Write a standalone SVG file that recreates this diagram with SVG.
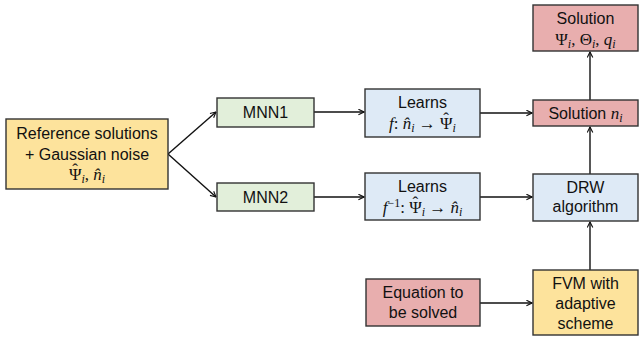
<svg xmlns="http://www.w3.org/2000/svg" width="643" height="344" viewBox="0 0 643 344">
<defs>
<marker id="arr" viewBox="0 0 10 10" refX="9" refY="5" markerWidth="7" markerHeight="7" markerUnits="userSpaceOnUse" orient="auto">
<path d="M1,1 L9,5 L1,9" fill="none" stroke="#111" stroke-width="1.6"/>
</marker>
</defs>
<style>
rect{stroke:#333;stroke-width:1.4}
.y{fill:#FDE39C}.g{fill:#E2EFDA}.b{fill:#DEEAF6}.r{fill:#E8AEAE}
text{font-family:"Liberation Sans",Arial,sans-serif;font-size:16px;fill:#111;text-anchor:middle}
.m{font-family:"Liberation Serif","DejaVu Serif",serif;font-size:17px}
.i{font-style:italic}
.s{font-size:12px;font-style:italic;font-family:"Liberation Serif",serif}
#conn line{stroke:#111;stroke-width:1.4;marker-end:url(#arr)}
</style>
<g id="conn">
<line x1="168" y1="154" x2="216" y2="112"/>
<line x1="168" y1="154" x2="216" y2="197"/>
<line x1="314" y1="112" x2="364" y2="112"/>
<line x1="314" y1="197" x2="364" y2="197"/>
<line x1="480" y1="113" x2="532" y2="113"/>
<line x1="480" y1="197" x2="532" y2="197"/>
<line x1="590" y1="100" x2="590" y2="52"/>
<line x1="590" y1="174" x2="590" y2="127"/>
<line x1="590" y1="270" x2="590" y2="222"/>
<line x1="480" y1="303" x2="532" y2="303"/>
</g>
<g id="ref">
<rect class="y" x="6" y="119" width="162" height="70"/>
<text x="87" y="139">Reference solutions</text>
<text x="87" y="160">+ Gaussian noise</text>
<text class="m" x="87" y="180">Ψ<tspan dx="-9.3" dy="-5">ˆ</tspan><tspan class="s" dx="3.6" dy="8">i</tspan><tspan dy="-3">, </tspan><tspan class="i">n̂</tspan><tspan class="s" dy="3">i</tspan></text>
</g>
<g id="mnn1">
<rect class="g" x="217" y="98" width="97" height="29"/>
<text x="265.5" y="118">MNN1</text>
</g>
<g id="mnn2">
<rect class="g" x="217" y="183" width="97" height="28"/>
<text x="265.5" y="203">MNN2</text>
</g>
<g id="learns1">
<rect class="b" x="365" y="89" width="115" height="48"/>
<text x="422.5" y="108">Learns</text>
<text class="m" x="422.5" y="129"><tspan class="i">f</tspan>: <tspan class="i">n̂</tspan><tspan class="s" dy="3">i</tspan><tspan dy="-3"> → Ψ</tspan><tspan dx="-9.3" dy="-5">ˆ</tspan><tspan class="s" dx="3.6" dy="8">i</tspan></text>
</g>
<g id="learns2">
<rect class="b" x="365" y="173" width="115" height="47"/>
<text x="422.5" y="192">Learns</text>
<text class="m" x="422.5" y="213"><tspan class="i">f</tspan><tspan font-size="12" dy="-6">−1</tspan><tspan dy="6">: Ψ</tspan><tspan dx="-9.3" dy="-5">ˆ</tspan><tspan class="s" dx="3.6" dy="8">i</tspan><tspan dy="-3"> → </tspan><tspan class="i">n̂</tspan><tspan class="s" dy="3">i</tspan></text>
</g>
<g id="solution">
<rect class="r" x="533" y="5" width="105" height="46"/>
<text x="585.5" y="24">Solution</text>
<text class="m" x="585.5" y="45">Ψ<tspan class="s" dy="3">i</tspan><tspan dy="-3">, Θ</tspan><tspan class="s" dy="3">i</tspan><tspan dy="-3">, </tspan><tspan class="i">q</tspan><tspan class="s" dy="3">i</tspan></text>
</g>
<g id="solution-n">
<rect class="r" x="533" y="100" width="105" height="26"/>
<text x="585.5" y="119">Solution <tspan class="m i">n</tspan><tspan class="s" dy="3">i</tspan></text>
</g>
<g id="drw">
<rect class="b" x="533" y="174" width="105" height="47"/>
<text x="585.5" y="193">DRW</text>
<text x="585.5" y="212">algorithm</text>
</g>
<g id="fvm">
<rect class="y" x="533" y="270" width="105" height="65"/>
<text x="585.5" y="289">FVM with</text>
<text x="585.5" y="309">adaptive</text>
<text x="585.5" y="329">scheme</text>
</g>
<g id="equation">
<rect class="r" x="366" y="279" width="114" height="47"/>
<text x="423" y="298">Equation to</text>
<text x="423" y="318">be solved</text>
</g>
</svg>
